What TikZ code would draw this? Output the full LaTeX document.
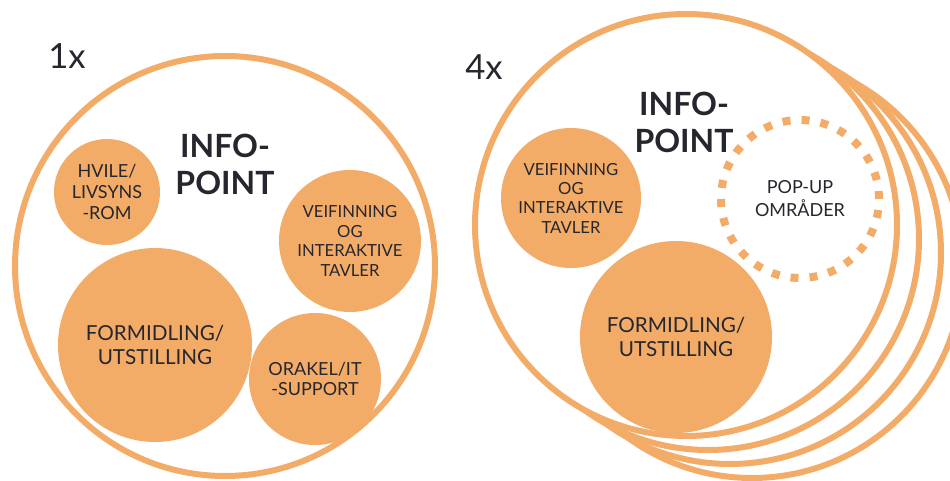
\documentclass[tikz,border=0pt]{standalone}
\usepackage{fontspec}
\setmainfont{Lato}
\definecolor{infoorange}{HTML}{F3AC67}
\definecolor{infotext}{HTML}{26262E}

\begin{document}
\begin{tikzpicture}[x=0.75pt, y=-0.75pt]
        % Define node styles
        \tikzstyle{frame}=[circle, draw=infoorange, fill=white, line width=4.5pt, inner sep=0pt]
        \tikzstyle{area}=[circle, fill=infoorange, inner sep=0pt, align=center, text=infotext]
        \tikzstyle{popup}=[circle, draw=infoorange, line width=6pt, dash pattern=on 6pt off 8.32pt, inner sep=0pt, align=center, text=infotext]
        \tikzstyle{title}=[align=center, text=infotext, font=\bfseries\fontsize{24}{27.75}\selectfont]
        \tikzstyle{count}=[text=infotext, font=\fontsize{26}{30}\selectfont]

        \useasboundingbox (0,0) rectangle (950,481);

        % One info-point
        \node [count] (one) at (67,56) {1x};
        \node [frame, minimum size=315pt] (single) at (225,266) {};
        \node [title] (single-title) at (225,164) {INFO-\\POINT};
        \node [area, minimum size=79.5pt, font=\fontsize{13.5}{15.8}\selectfont] (rest) at (107,192) {HVILE/\\LIVSYNS\\-ROM};
        \node [area, minimum size=106.5pt, font=\fontsize{12.5}{14.6}\selectfont] (wayfind) at (350,241) {VEIFINNING\\OG\\INTERAKTIVE\\TAVLER};
        \node [area, minimum size=145.5pt, font=\fontsize{15.5}{17.3}\selectfont] (exhibit) at (155,345) {FORMIDLING/\\UTSTILLING};
        \node [area, minimum size=99pt, font=\fontsize{13.5}{15}\selectfont] (support) at (315,379) {ORAKEL/IT\\-SUPPORT};

        % Four info-points, stacked rings behind the front one
        \node [count] (four) at (484,67) {4x};
        \foreach \i in {3,2,1}
            \node [frame, minimum size=316.5pt] (ring-\i) at (686+22*\i,225+14*\i) {};
        \node [frame, minimum size=316.5pt] (multi) at (686,225) {};
        \node [title] (multi-title) at (684,122) {INFO-\\POINT};
        \node [area, minimum size=105pt, font=\fontsize{12.5}{14.5}\selectfont] (multi-wayfind) at (571,198) {VEIFINNING\\OG\\INTERAKTIVE\\TAVLER};
        \node [popup, minimum size=118.5pt, font=\fontsize{13.5}{17.3}\selectfont] (popup) at (800,199) {POP-UP\\OMRÅDER};
        \node [area, minimum size=144pt, font=\fontsize{15.5}{17.3}\selectfont] (multi-exhibit) at (676,337) {FORMIDLING/\\UTSTILLING};
\end{tikzpicture}
\end{document}
